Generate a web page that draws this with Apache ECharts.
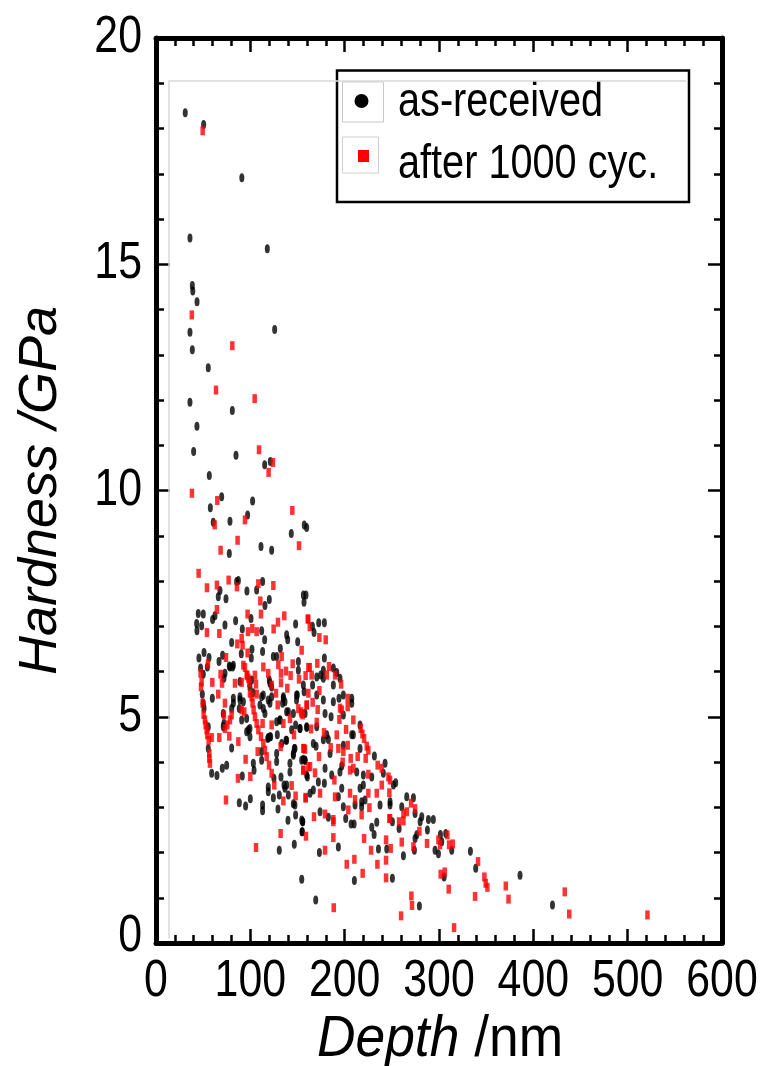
<!DOCTYPE html>
<html><head><meta charset="utf-8">
<style>html,body{margin:0;padding:0;background:#fff}#c{width:762px;height:1066px}</style>
<script src="https://cdn.jsdelivr.net/npm/echarts@6/dist/echarts.min.js"></script>
</head><body><div id="c"></div>
<script>
const seriesNames = ['as-received', 'after 1000 cyc.'];
const xTicks = [0, 100, 200, 300, 400, 500, 600];
const yTicks = [0, 5, 10, 15, 20];
const asReceived = [
[31,18.35],[50.5,18.09],[91,16.91],[36,15.58],[118,15.34],[38.5,14.53],[39,14.41],[43.5,14.17],
[125.8,13.56],[36,13.5],[38.5,13.11],[55.4,12.71],[36,11.95],[80.9,11.77],[43.4,11.42],[39.9,10.86],[84.8,10.78],[115.2,10.57],[121.2,10.64],[56.5,10.33],[69.6,9.86],[102.4,9.77],[57.6,9.62],[60.7,9.3],[78.4,9.32],[97.1,9.46],[157.2,9.24],[159.7,9.18],[143.4,9.05],[111.3,8.76],[122.6,8.68],[77.7,8.61],
[87.3,8.01],[85.5,7.99],[113,7.99],[96.4,7.78],[106.7,7.8],[67.8,7.79],[66,7.65],[74.2,7.61],[156.2,7.69],[159,7.69],[156.9,7.53],[120.1,7.59],[115.5,7.46],[44.8,7.28],[50.1,7.27],[62.5,7.23],[60,7.15],[100.7,7.17],[84.4,7.12],[43.1,7.06],[48.4,7.01],[43.4,6.9],[73.1,7.03],[91.5,6.94],[112,6.9],[148,7.05],[138.5,6.81],[139.6,6.7],[150.2,6.66],[115.2,6.7],[80.2,6.64],[131.8,6.51],[50.9,6.42],[45.5,6.3],[56.2,6.31],[70.6,6.36],[90.4,6.39],[101.7,6.49],[113,6.44],[124.4,6.33],[127.9,6.33],[101,6.3],[66.8,6.22],[54.4,6.1],[47.3,6.08],[78.4,6.1],[81.2,6.1],[150.9,6.22],[150.9,6.03],[73.1,5.96],[72,5.85],[50.1,5.94],[120.1,5.81],[156.2,5.7],[49.1,5.5],[59.7,5.41],[113.8,5.48],[89,5.44],[82,5.41],[99.6,5.66],[135,5.44],[149,5.48],[101.4,5.81],[122.6,5.44],
[50.1,5.3],[50.9,5.18],[55.4,4.78],[55.4,4.3],[59,3.75],[64.6,3.7],[70.3,3.86],[74.9,3.93],[80.2,4.31],[71.3,5.07],[72,4.85],[71.3,4.78],[82,5.3],[80.2,5.18],[89,5.37],[92.6,5.33],[88.3,5.18],[90.8,4.93],[96.1,4.96],[96.1,4.67],[99.6,4.56],[99.6,4.74],[112,4.23],[112,4.04],[103.2,3.97],[103.9,3.82],[91.5,3.69],[88.3,3.1],[95,3.03],[100,3.19],[113,3.05],[113,2.92],[124.4,3.21],[130.7,3.27],[129.3,2.96],[119,3.45],[119,3.34],[125,3.64],[132.5,3.67],[135.7,3.49],[138.5,3.49],[136.7,3.42],[140.3,3.27],[145.6,3.08],[147.3,3.05],[148,2.83],[139.9,2.71],[155.5,2.68],[154.7,2.46],[146.6,2.18],[130.7,2.05],[127.9,4.19],[127.9,4.01],[142,3.97],[142,3.78],[146.6,4.3],[145.6,4.19],[154.4,4.04],[158,4.04],[159.7,3.71],[119,4.54],[121.5,4.56],[133.2,4.41],[137.8,4.48],[115.5,5.07],[113.8,5.18],[119,5.37],[112,5.44],[120.8,5.3],[127.9,4.89],[131.4,4.93],[138.5,5.11],[136.7,5.33],[135,5.41],[149,5.37],[148,4.82],[152.6,4.74],[159.7,4.78],[143.8,4.71],[158,5.07],[149.8,5.48],
[82,6.14],[77.7,6.12],[103,5.53],[89,5.78],[120.8,5.74],[122.6,5.66],[134.2,5.3],[110.2,5.26],[140.3,5.11],[145.6,5.07],[131.4,4.93],[120.8,4.56],[118.5,4.52],[128.6,4.6],[138.5,4.48],[147.3,4.3],[145.6,4.15],[97.9,4.71],
[165.8,7],[167.5,6.86],[172.5,7.08],[178.5,7.08],[178.5,6.3],[177.4,6.03],[174.6,5.92],[170.4,5.88],[188,6.08],[191.6,5.98],[195,5.85],
[177.4,5.85],[188,5.7],[166,5.7],[194,5.41],[198.6,5.48],[188,5.33],[207.5,5.41],[207.5,5.3],[177.4,5.37],[170.4,5.48],[157,5.55],[179.2,5.07],[185.6,5],[198.6,5.04],[216.3,4.82],[209.2,4.6],[152.7,4.74],[159.8,4.76],[170.4,4.78],[181,4.6],[182.7,4.5],[177.4,4.49],[166.8,4.41],[169.7,4.35],[184.5,4.19],[198.6,4.37],[216.3,4.3],[207.5,4.6],[231.5,4.13],[242.8,3.97],[156.2,4.06],[158,4.04],[196.9,3.91],[179.2,3.86],[160.5,3.67],[172.1,3.56],[178.5,3.53],[186.3,3.71],[195,3.78],[212.8,3.78],[219.8,3.71],[228.7,3.67],[219.8,3.49],[216.3,3.42],[196.9,3.42],[241,3.75],[254.1,3.54],[251.7,3.49],[166.8,3.38],[163.3,3.31],[193.3,3.23],[198.6,3.01],[218,3.12],[221.6,3.16],[237.5,3.05],[248.1,3.12],[248.1,3.05],[265.8,3.23],[272.9,3.21],[260.5,3.01],[274.6,2.86],[281.7,2.79],[288.8,2.73],[294,2.73],[173.9,2.9],[218,3.01],[154.5,2.72],
[155.5,2.68],[155.2,2.46],[182.7,2.78],[201.1,2.75],[211,3.05],[206.8,2.63],[210,2.63],[250.6,2.68],[234,2.67],[228.7,2.56],[231.2,2.4],[257.7,2.53],[280,2.68],[287.7,2.5],[276.4,2.39],[274.6,2.31],[301.5,2.4],[307.1,2.42],[302.9,2.24],[295.8,2.05],[299.4,1.97],[313.5,2.05],[333.3,2.03],[338.9,1.65],[273.9,2.05],[262.3,1.93],[244.6,2.08],[235.8,2.08],[193.3,2.12],[173.2,2],[154.5,1.41],[210.3,1.38],[250.6,1.43],[305.4,1.46],[169.3,0.95],[279.2,0.82],[385.9,1.5],[420.3,0.84]
];
const after1000 = [
[49.5,17.95],[38,13.88],[80.9,13.2],[63.6,12.22],[104.6,12.03],[109.2,10.9],[124,10.62],[119.4,10.4],[38.1,9.94],[65,9.78],[144.5,9.56],[94.3,9.35],[62.2,9.24],[86.5,8.9],[151.6,8.78],[68.5,8.68],
[45.2,8.17],[77,8.02],[54,7.85],[64.6,7.91],[85.8,7.87],[108.5,7.94],[124.4,7.9],[110.6,7.56],[64.6,7.37],[97.1,7.27],[111.3,7.27],[136,7.23],[161.5,7.16],[129.3,7.09],[124.7,6.94],[54,6.86],[67.1,6.84],[97.5,6.88],[102.1,6.95],[106.7,6.88],[90.8,6.73],[86.2,6.61],[91.8,6.58],[154.4,6.47],[97.1,6.41],[74.2,6.31],[133.2,6.33],[55.1,6.17],[113.8,6.1],[129.7,6.15],[94.3,6.09],[144.9,6.17],[47.3,5.96],[68.5,5.94],[96.1,5.92],[104.9,5.92],[119,5.96],[132.5,5.96],[137.8,6.01],[161.5,6.09],[142.7,5.91],[151.6,5.83],[158.6,5.91],[59.7,5.76],[70,5.74],[83.7,5.74],[90.8,5.76],[97.9,5.85],[106,5.72],[122.6,5.7],[132.5,5.75],[47.7,5.66],[66,5.5],[99.6,5.52],[106.7,5.5],[127.2,5.52],[139.2,5.63],[101.4,5.44],[48.4,5.77],
[51.9,4.93],[52.6,4.82],[53.7,4.71],[54.4,4.6],[55.8,4.48],[56.5,4.19],[56.5,4.08],[57.2,3.97],[59,4.54],[50.5,5.05],[49.5,5.3],
[92.6,6.14],[96.8,5.92],[98.9,5.75],[102.4,5.3],[103.5,5.15],[104.9,5],[106.7,4.85],[108.5,4.71],[111.3,4.56],[113.8,4.41],[115.5,4.26],[117.3,4.12],[119.8,3.93],[122.6,3.75],[125.4,3.49],
[73.1,5.3],[72,5.04],[80.2,5.04],[78.4,4.93],[75.6,4.82],[73.1,4.74],[67.1,4.54],[77.7,4.57],[87.3,4.45],[95,4.06],[107.8,4.23],[86.9,3.64],[100,3.68],[74.2,3.16],[132.1,2.42],[159,2.36],[106,2.11],[90.8,5.15],[93.6,5.11],[113,4.85],[122.6,4.82],[135,4.85],[142,4.96],[150.9,5.18],[154.4,5.07],[129,5.26],[159.7,5.26],[146.3,4.6],[132.1,4.34],[156.2,4.3],[158,4.28],[156.2,3.82],[161.5,3.89],[143.8,3.48],[148,3.25],[158.6,3.2],[135,3.14],
[160.8,7.16],[163,6.99],[173.2,6.75],[179.9,6.7],[163,6.09],[171,6.18],[183.4,6.11],[165,5.92],[189.8,5.92],[181,5.92],
[196.2,5.72],[173.2,5.58],[161.5,5.52],[203.2,5.41],[195.1,5.19],[196.9,5.15],[203.2,5.22],[153.8,5.11],[155.5,5.04],[171.4,5.16],[159.8,5.26],[166.1,5.32],[194.4,4.94],[209.2,4.93],[170.4,4.88],[164.4,4.73],[201.5,4.72],[217,4.74],[218.8,4.62],[178.1,4.65],[191.6,4.6],[220.6,4.52],[223.4,4.35],[225.1,4.26],[203.2,4.37],[185.2,4.32],[193.3,4.3],[156.9,4.3],[172.8,4.12],[198.6,4.23],[213.8,4.12],[206.4,4.08],[222.3,4.08],[197.9,4],[235,3.93],[239.3,3.86],[163.3,3.9],[156.2,3.82],[168.6,3.76],[205.7,3.82],[209.2,3.86],[189.1,3.6],[225.1,3.73],[246.4,3.67],[248.1,3.6],[239.3,3.49],[173.9,3.31],[158.7,3.22],[189.8,3.23],[205.7,3.31],[211,3.17],[225.1,3.31],[234,3.31],[247.4,3.32],[203.9,2.94],[226.2,2.99],[218,2.83],[262.3,2.86],[265.8,2.9],[270.4,3.09],[274.6,2.97],[248.1,2.75],[167.5,2.79],[179.2,2.85],[188,2.73],
[188,2.68],[188,2.33],[179.2,2.05],[220.6,2.31],[228,2.05],[243.9,2.28],[248.8,2.09],[260.5,2.23],[272.9,2.13],[287.3,2.2],[299.4,2.28],[301.1,2.17],[310.7,2.17],[314.6,2.19],[308.9,2.39],[279.2,2.47],[247.4,2.75],[257.7,2.68],[262.3,2.7],[202.2,1.74],[210.3,1.85],[234.7,1.74],[243.9,1.83],[219.1,1.54],[243.9,1.44],[301.8,1.52],[306.1,1.57],[310.3,1.19],[341.4,1.8],[348.1,1.46],[349.5,1.32],[351.3,1.23],[338.2,1.03],[270.7,1.04],[271.4,0.83],[188.4,0.78],[259.8,0.6],[316,0.34],[370.8,1.26],[373.7,0.97],[433.3,1.13],[438.1,0.64],[521,0.62]
];

const chart = echarts.init(document.getElementById('c'), null, {renderer:'canvas'});
const SANS = '"Liberation Sans",Arial,sans-serif';
const spine = {show:true, onZero:false, lineStyle:{color:'#000', width:5}};
const tick = {show:true, inside:true, length:14, lineStyle:{color:'#000', width:2.5}};
const minor = {show:true, length:8, splitNumber:5, lineStyle:{color:'#000', width:2.5}};
const xBase = {type:'value', min:0, max:600, interval:100, splitLine:{show:false}, minorSplitLine:{show:false}, axisLine:spine, axisTick:tick, minorTick:minor, axisLabel:{show:false}};
const yBase = {type:'value', min:0, max:20, interval:5, splitLine:{show:false}, minorSplitLine:{show:false}, axisLine:spine, axisTick:tick, minorTick:minor, axisLabel:{show:false}};
chart.setOption({
  animation:false,
  backgroundColor:'#fff',
  grid:{left:156, right:40, top:38, bottom:123, containLabel:false, outerBoundsMode:'none'},
  xAxis:[Object.assign({}, xBase, {position:'bottom'}), Object.assign({}, xBase, {position:'top'})],
  yAxis:[
    Object.assign({}, yBase, {position:'left',
      name:'Hardness /GPa', nameLocation:'middle', nameGap:88, nameRotate:90,
      nameTextStyle:{fontFamily:SANS, fontStyle:'italic', fontSize:54, color:'#000'}}),
    Object.assign({}, yBase, {position:'right'})
  ],
  series:[
    {name:seriesNames[0], type:'scatter', xAxisIndex:0, yAxisIndex:0, symbol:'circle', symbolSize:[5,9], itemStyle:{color:'#000'}, data:asReceived, z:3,
     markLine:{silent:true, symbol:'none', label:{show:false}, animation:false,
       lineStyle:{color:'#d8d8d8', width:1.5, type:'solid'},
       data:[[{coord:[13,19.05]},{coord:[562,19.05]}],[{coord:[13,19.05]},{coord:[13,0.1]}]]}},
    {name:seriesNames[1], type:'scatter', xAxisIndex:0, yAxisIndex:0, symbol:'rect', symbolSize:[4.5,9], itemStyle:{color:'#ff0000'}, data:after1000, z:4}
  ]
});

// Tick labels and legend: real text, condensed horizontally as in the reference; positions come from the axes' scales.
const label = (text, x, y, align) => ({type:'text', silent:true, x, y, scaleX:0.84,
  style:{text, fill:'#000', font:'51px '+SANS, textAlign:align, textVerticalAlign:'middle'}});
const xLabels = xTicks.map(v => label(String(v), chart.convertToPixel({xAxisIndex:0}, v), 982, 'center'));
const yLabels = yTicks.map(v => label(String(v), 142, chart.convertToPixel({yAxisIndex:0}, v) - (v === 0 ? 6 : 0), 'right'));
const legendText = (text, y) => ({type:'text', silent:true, x:398, y, scaleX:0.835,
  style:{text, fill:'#000', font:'47.5px '+SANS, textAlign:'left', textVerticalAlign:'middle'}});
chart.setOption({graphic:[
  ...xLabels, ...yLabels,
  {type:'text', silent:true, x:440, y:1040, scaleX:0.92,
    style:{text:'{i|Depth} /nm', fill:'#000', font:'58px '+SANS, textAlign:'center', textVerticalAlign:'middle',
      rich:{i:{fontStyle:'italic', fontSize:58, fontFamily:SANS, fill:'#000'}}}},
  {type:'rect', silent:true, shape:{x:337,y:70.5,width:352,height:131.5}, style:{fill:'none',stroke:'#000',lineWidth:2.5}},
  {type:'rect', silent:true, shape:{x:342.5,y:82,width:41,height:40}, style:{fill:'none',stroke:'#c8c8c8',lineWidth:1}},
  {type:'rect', silent:true, shape:{x:342.5,y:137,width:36,height:36}, style:{fill:'none',stroke:'#d0d0d0',lineWidth:1}},
  {type:'circle', silent:true, shape:{cx:361.5,cy:101,r:7}, style:{fill:'#000'}},
  {type:'rect', silent:true, shape:{x:358,y:150,width:11,height:12}, style:{fill:'#ff0000'}},
  legendText(seriesNames[0], 103), legendText(seriesNames[1], 165)
]});
</script></body></html>
